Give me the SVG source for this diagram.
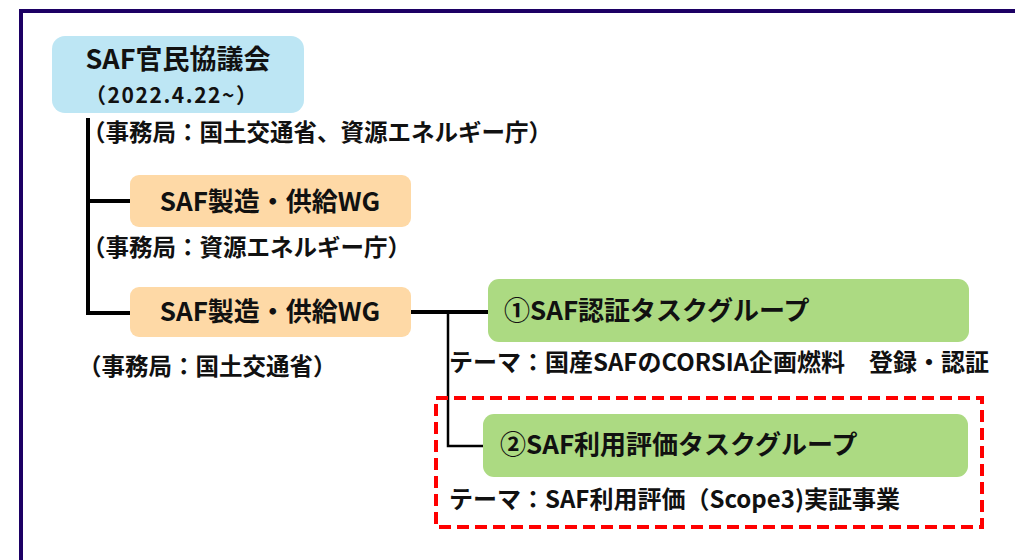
<svg xmlns="http://www.w3.org/2000/svg" width="1015" height="560" viewBox="0 0 1015 560">
<style>
text{font-family:"Noto Sans CJK JP","Liberation Sans",sans-serif;font-weight:700;fill:#111}
.t{font-size:26px;text-anchor:middle}
.l{font-size:23.5px}
.th{font-size:24px}
.blue{fill:#bde6f4}
.orange{fill:#fed9a6}
.green{fill:#acda82}
.conn{stroke:#000;fill:none}
</style>
<rect x="21" y="11" width="1010" height="560" fill="#fff" stroke="#1c0064" stroke-width="4"/>
<g id="connectors">
<path class="conn" stroke-width="4" d="M88 118V313H130M88 201H130"/>
<path class="conn" stroke-width="4" d="M411 312H488"/>
<path class="conn" stroke-width="2.5" d="M448 312V446H484"/>
</g>
<g id="council">
<rect class="blue" x="52" y="36" width="252" height="77" rx="13"/>
<text class="t" x="178" y="69" style="font-size:27px">SAF官民協議会</text>
<text x="85" y="103" style="font-size:21px" textLength="172" lengthAdjust="spacing">（2022.4.22~）</text>
</g>
<text class="l" x="82" y="141">（事務局：国土交通省、資源エネルギー庁）</text>
<g id="wg1">
<rect class="orange" x="130" y="175" width="281" height="52" rx="9"/>
<text class="t" x="270" y="211">SAF製造・供給WG</text>
</g>
<text class="l" x="82" y="256">（事務局：資源エネルギー庁）</text>
<g id="wg2">
<rect class="orange" x="130" y="287" width="281" height="50" rx="9"/>
<text class="t" x="270" y="321">SAF製造・供給WG</text>
</g>
<text class="l" x="78" y="375">（事務局：国土交通省）</text>
<g id="tg1">
<rect class="green" x="488" y="279" width="481" height="63" rx="11"/>
<text x="504" y="320" style="font-size:26px">①SAF認証タスクグループ</text>
</g>
<text class="th" x="449" y="371">テーマ：国産SAFのCORSIA企画燃料　登録・認証</text>
<g id="tg2">
<rect class="green" x="483" y="414" width="485" height="63" rx="11"/>
<text x="500" y="454" style="font-size:26px">②SAF利用評価タスクグループ</text>
</g>
<text class="th" x="449" y="508">テーマ：SAF利用評価（Scope3)実証事業</text>
<rect id="highlight" x="436" y="398" width="546" height="129" fill="none" stroke="#ff0000" stroke-width="4" stroke-dasharray="12 6"/>
</svg>
